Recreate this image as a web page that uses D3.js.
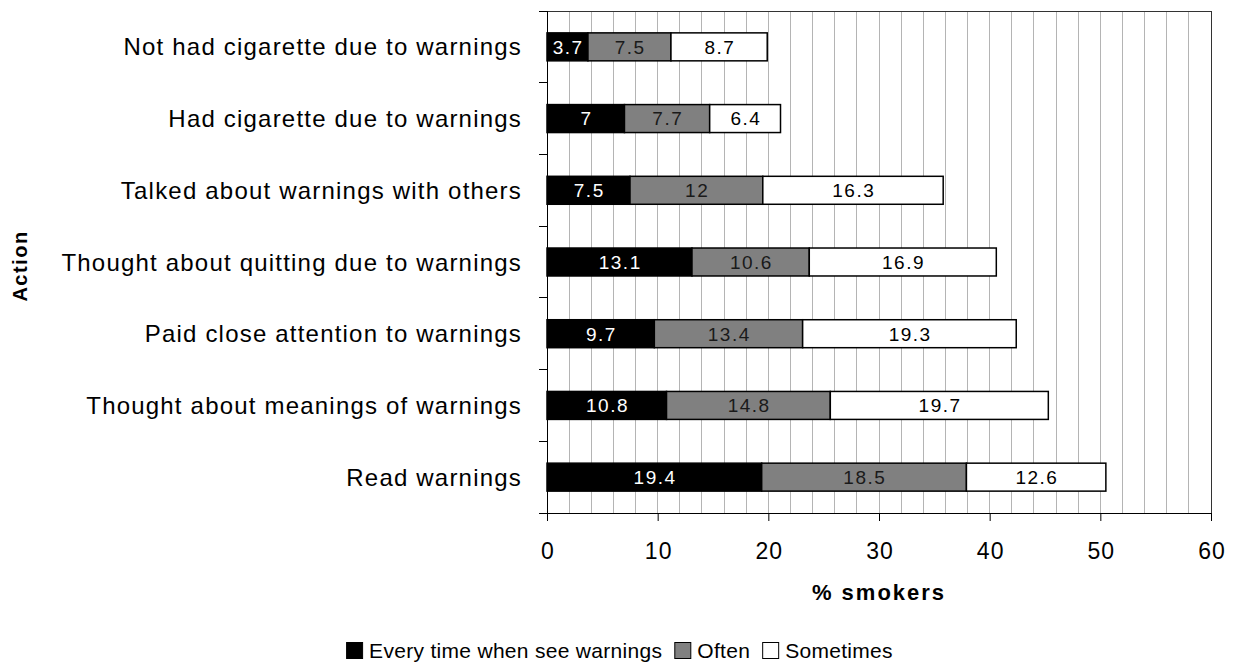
<!DOCTYPE html>
<html>
<head>
<meta charset="utf-8">
<script src="https://cdn.jsdelivr.net/npm/d3@7"></script>
<style>
  body { margin: 0; background: #fff; }
  svg { display: block; font-family: "Liberation Sans", Arial, sans-serif; }
</style>
</head>
<body>
<svg id="chart" width="1236" height="662"></svg>
<script>
// Actions reported by smokers, top to bottom
const categories = [
  "Not had cigarette due to warnings",
  "Had cigarette due to warnings",
  "Talked about warnings with others",
  "Thought about quitting due to warnings",
  "Paid close attention to warnings",
  "Thought about meanings of warnings",
  "Read warnings"
];
const seriesNames = ["Every time when see warnings", "Often", "Sometimes"];
const everyTime = [3.7, 7, 7.5, 13.1, 9.7, 10.8, 19.4];
const often     = [7.5, 7.7, 12, 10.6, 13.4, 14.8, 18.5];
const sometimes = [8.7, 6.4, 16.3, 16.9, 19.3, 19.7, 12.6];
const xTicks = [0, 10, 20, 30, 40, 50, 60];

const fills = ["#000000", "#808080", "#ffffff"];
const textFills = ["#ffffff", "#1a1a1a", "#000000"];

const svg = d3.select("#chart");
const m = { left: 547, right: 1211, top: 11, bottom: 513 };

const x = d3.scaleLinear().domain([0, 60]).range([m.left, m.right]);
const y = d3.scaleBand().domain(categories).range([m.top, m.bottom]).paddingInner(0.61).paddingOuter(0.305);
const band = d3.scaleBand().domain(categories).range([m.top, m.bottom]);

// Light vertical gridlines every 2 units
svg.append("g").selectAll("line")
  .data(d3.range(2, 60, 2))
  .join("line")
  .attr("x1", d => x(d)).attr("x2", d => x(d))
  .attr("y1", m.top).attr("y2", m.bottom)
  .attr("stroke", "#b4b4b4").attr("stroke-width", 1)
  .attr("shape-rendering", "crispEdges");

// Frame: top and right borders
svg.append("line").attr("x1", m.left).attr("x2", m.right).attr("y1", m.top).attr("y2", m.top)
  .attr("stroke", "#333").attr("shape-rendering", "crispEdges");
svg.append("line").attr("x1", m.right).attr("x2", m.right).attr("y1", m.top).attr("y2", m.bottom)
  .attr("stroke", "#333").attr("shape-rendering", "crispEdges");

// Stacked data
const rows = categories.map((c, i) => ({ cat: c, vals: [everyTime[i], often[i], sometimes[i]] }));
const stack = d3.stack().keys([0, 1, 2]).value((d, k) => d.vals[k]);
const layers = stack(rows);

const gBars = svg.append("g");
layers.forEach((layer, k) => {
  const g = gBars.append("g");
  g.selectAll("rect").data(layer).join("rect")
    .attr("x", d => x(d[0]))
    .attr("y", d => y(d.data.cat))
    .attr("width", d => x(d[1]) - x(d[0]))
    .attr("height", y.bandwidth())
    .attr("fill", fills[k])
    .attr("stroke", "#000").attr("stroke-width", 1.5);
  g.selectAll("text").data(layer).join("text")
    .attr("x", d => (x(d[0]) + x(d[1])) / 2 + 0.75)
    .attr("y", d => y(d.data.cat) + y.bandwidth() / 2)
    .attr("dy", "0.36em")
    .attr("text-anchor", "middle")
    .attr("font-size", 19)
    .attr("letter-spacing", "1.5px")
    .attr("fill", textFills[k])
    .text(d => d.data.vals[k]);
});

// Y axis (ticks at band boundaries, labels centred on bands)
svg.append("line").attr("x1", m.left).attr("x2", m.left).attr("y1", m.top).attr("y2", m.bottom)
  .attr("stroke", "#000").attr("shape-rendering", "crispEdges");
const bounds = categories.map(c => band(c)).concat([m.bottom]);
svg.append("g").selectAll("line").data(bounds).join("line")
  .attr("x1", m.left - 8).attr("x2", m.left)
  .attr("y1", d => d).attr("y2", d => d)
  .attr("stroke", "#000").attr("shape-rendering", "crispEdges");
svg.append("g").selectAll("text").data(categories).join("text")
  .attr("x", 522)
  .attr("y", d => band(d) + band.bandwidth() / 2)
  .attr("dy", "0.36em")
  .attr("text-anchor", "end")
  .attr("font-size", 24)
  .attr("letter-spacing", "1.2px")
  .attr("fill", "#000")
  .text(d => d);

// X axis
const xAxis = d3.axisBottom(x).tickValues(xTicks).tickSize(8).tickPadding(22).tickFormat(d3.format("d"));
const gx = svg.append("g").attr("transform", `translate(0,${m.bottom})`).call(xAxis);
gx.select(".domain").attr("stroke", "#000").attr("d", `M${m.left},0.5H${m.right}`);
gx.selectAll(".tick line").attr("stroke", "#000");
gx.selectAll(".tick text").attr("font-size", 23).attr("font-family", "Liberation Sans, Arial, sans-serif")
  .attr("fill", "#000").attr("letter-spacing", "1px").attr("dx", "0.5px");

// Axis titles
svg.append("text").attr("x", 879).attr("y", 600).attr("text-anchor", "middle")
  .attr("font-size", 22).attr("font-weight", "bold").attr("letter-spacing", "2px").text("% smokers");
svg.append("text")
  .attr("transform", `translate(27,266) rotate(-90)`)
  .attr("text-anchor", "middle")
  .attr("font-size", 20).attr("font-weight", "bold").attr("letter-spacing", "1.5px")
  .text("Action");

// Legend
const legend = svg.append("g");
let lx = 0;
seriesNames.forEach((name, k) => {
  const g = legend.append("g").attr("transform", `translate(${lx},0)`);
  g.append("rect").attr("x", 0.5).attr("y", -15.5).attr("width", 16).attr("height", 16)
    .attr("fill", fills[k]).attr("stroke", "#000").attr("stroke-width", 1);
  const t = g.append("text").attr("x", 23).attr("y", 0).attr("font-size", 21)
    .attr("letter-spacing", "0.3px").text(name);
  lx += 23 + t.node().getComputedTextLength() + 12;
});
const legendW = lx - 12;
legend.attr("transform", `translate(${619.5 - legendW / 2},658)`);
</script>
</body>
</html>
